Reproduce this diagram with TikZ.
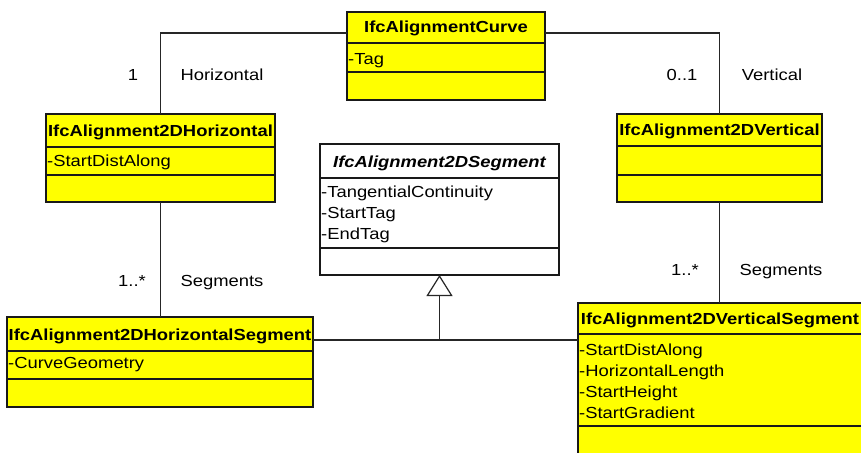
\documentclass[tikz,border=0pt]{standalone}
\usepackage{fontspec}
\setmainfont{Liberation Sans}
\usetikzlibrary{arrows.meta}
\definecolor{ifcyellow}{RGB}{255,255,0}
\definecolor{edgecol}{RGB}{25,25,25}
\newcommand{\wide}[1]{\scalebox{1.15}[1]{#1}}
\begin{document}
\begin{tikzpicture}[x=1pt,y=-1pt,
  classbox/.style={draw=edgecol, line width=1.6pt, fill=ifcyellow, anchor=north west, inner sep=0pt, outer sep=0pt},
  abstractbox/.style={classbox, fill=white},
  titletext/.style={anchor=base, inner sep=0pt, font=\fontsize{16}{19}\selectfont\bfseries},
  attrtext/.style={anchor=base west, inner sep=0pt, font=\fontsize{16}{19}\selectfont},
  labeltext/.style={anchor=base, inner sep=0pt, font=\fontsize{16}{19}\selectfont},
  sep/.style={draw=edgecol, line width=1.6pt},
  conn/.style={draw=black!85, line width=1.2pt}
]
\useasboundingbox (0,0) rectangle (861,452);
\clip (0,0) rectangle (861,452);
\fill[white] (0,0) rectangle (861,452);

% class boxes
\node[classbox, minimum width=198pt, minimum height=88pt] (curve) at (347,12) {};
\node[classbox, minimum width=229pt, minimum height=88pt] (horiz) at (46,114) {};
\node[classbox, minimum width=205pt, minimum height=88pt] (vert) at (617,114) {};
\node[abstractbox, minimum width=239pt, minimum height=131pt] (seg) at (320,144) {};
\node[classbox, minimum width=306pt, minimum height=90pt] (hseg) at (7,317) {};
\node[classbox, minimum width=284pt, minimum height=170pt] (vseg) at (578,303) {};

% compartments
\draw[sep] (curve.west |- 0,43) -- (curve.east |- 0,43);
\draw[sep] (curve.west |- 0,72) -- (curve.east |- 0,72);
\draw[sep] (horiz.west |- 0,147) -- (horiz.east |- 0,147);
\draw[sep] (horiz.west |- 0,175) -- (horiz.east |- 0,175);
\draw[sep] (vert.west |- 0,146) -- (vert.east |- 0,146);
\draw[sep] (vert.west |- 0,175) -- (vert.east |- 0,175);
\draw[sep] (seg.west |- 0,178) -- (seg.east |- 0,178);
\draw[sep] (seg.west |- 0,248) -- (seg.east |- 0,248);
\draw[sep] (hseg.west |- 0,351) -- (hseg.east |- 0,351);
\draw[sep] (hseg.west |- 0,379) -- (hseg.east |- 0,379);
\draw[sep] (vseg.west |- 0,334) -- (vseg.east |- 0,334);
\draw[sep] (vseg.west |- 0,426) -- (vseg.east |- 0,426);

% connectors
\draw[conn] (curve.west |- 0,33) -| (horiz.north);
\draw[conn] (curve.east |- 0,33) -| (vert.north);
\draw[conn] (horiz.south) -- (horiz.south |- hseg.north);
\draw[conn] (vert.south) -- (vert.south |- vseg.north);
\coordinate (J) at (seg.south |- 0,340);
\draw[conn] (hseg.east |- J) -- (J) -- (vseg.west |- J);
\draw[conn, -{Triangle[open, length=21pt, width=26pt, fill=white]}] (J) -- (seg.south);

% titles
\node[titletext] (curveT) at (446,33) {\wide{IfcAlignmentCurve}};
\node[titletext] (horizT) at (160.5,136) {\wide{IfcAlignment2DHorizontal}};
\node[titletext] (vertT) at (719.5,135) {\wide{IfcAlignment2DVertical}};
\node[titletext, font=\fontsize{16}{19}\selectfont\bfseries\itshape] (segT) at (439.5,167) {\wide{IfcAlignment2DSegment}};
\node[titletext] (hsegT) at (160,340) {\wide{IfcAlignment2DHorizontalSegment}};
\node[titletext] (vsegT) at (720,324) {\wide{IfcAlignment2DVerticalSegment}};

% attributes
\node[attrtext] (a1) at (348,64) {\wide{-Tag}};
\node[attrtext] (a2) at (47,166) {\wide{-StartDistAlong}};
\node[attrtext] (a3) at (321,197) {\wide{-TangentialContinuity}};
\node[attrtext] (a4) at (321,218) {\wide{-StartTag}};
\node[attrtext] (a5) at (321,239) {\wide{-EndTag}};
\node[attrtext] (a6) at (8,368) {\wide{-CurveGeometry}};
\node[attrtext] (a7) at (579,355) {\wide{-StartDistAlong}};
\node[attrtext] (a8) at (579,376) {\wide{-HorizontalLength}};
\node[attrtext] (a9) at (579,397) {\wide{-StartHeight}};
\node[attrtext] (a10) at (579,418) {\wide{-StartGradient}};

% role labels
\node[labeltext] (l1) at (133,80) {\wide{1}};
\node[labeltext] (l2) at (222,80) {\wide{Horizontal}};
\node[labeltext] (l3) at (682,80) {\wide{0..1}};
\node[labeltext] (l4) at (772,80) {\wide{Vertical}};
\node[labeltext] (l5) at (132,286) {\wide{1..*}};
\node[labeltext] (l6) at (222,286) {\wide{Segments}};
\node[labeltext] (l7) at (685,275) {\wide{1..*}};
\node[labeltext] (l8) at (781,275) {\wide{Segments}};
\end{tikzpicture}
\end{document}
